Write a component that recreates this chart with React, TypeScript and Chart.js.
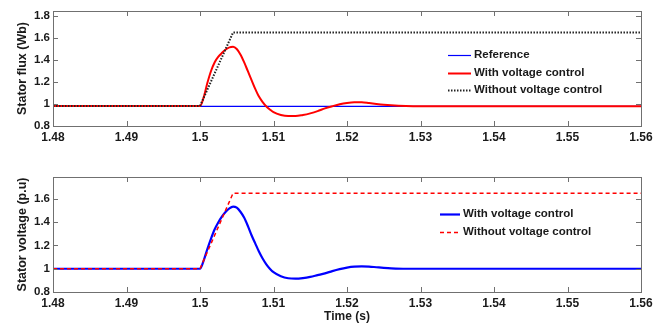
import React, { useEffect, useRef } from "react";
import { Chart, registerables } from "chart.js";
Chart.register(...registerables);

const FONT = "'Liberation Sans', Arial, Helvetica, sans-serif";

// ---- tick labels ----
const xTicks = [1.48, 1.49, 1.5, 1.51, 1.52, 1.53, 1.54, 1.55, 1.56];
const fluxTicks = [0.8, 1, 1.2, 1.4, 1.6, 1.8];
const voltTicks = [0.8, 1, 1.2, 1.4, 1.6];

// ---- top panel: stator flux ----
const refTime = [1.48, 1.56];
const refFlux = [0.978, 0.978];

const fluxNoCtrlTime = [1.48, 1.5, 1.5045, 1.56];
const fluxNoCtrl = [0.982, 0.982, 1.65, 1.65];

const fluxCtrlTime = [
  1.48, 1.5, 1.5005, 1.501, 1.5015, 1.502, 1.5025, 1.503, 1.5035, 1.504, 1.5045,
  1.505, 1.5055, 1.506, 1.5065, 1.507, 1.5075, 1.508, 1.5085, 1.509, 1.5095, 1.51,
  1.511, 1.512, 1.513, 1.514, 1.515, 1.516, 1.517, 1.518, 1.519, 1.52, 1.521, 1.522,
  1.523, 1.524, 1.525, 1.526, 1.528, 1.53, 1.56,
];
const fluxCtrl = [
  0.982, 0.982, 1.06, 1.19, 1.3, 1.38, 1.43, 1.465, 1.495, 1.515, 1.52,
  1.5, 1.45, 1.38, 1.3, 1.22, 1.14, 1.07, 1.02, 0.98, 0.95, 0.925,
  0.9, 0.89, 0.89, 0.9, 0.915, 0.935, 0.96, 0.98, 0.998, 1.01, 1.016, 1.015,
  1.008, 1.0, 0.993, 0.988, 0.982, 0.98, 0.98,
];

// ---- bottom panel: stator voltage ----
const voltNoCtrlTime = [1.48, 1.5, 1.5045, 1.56];
const voltNoCtrl = [1, 1, 1.65, 1.65];

const voltCtrlTime = [
  1.48, 1.5, 1.5005, 1.501, 1.5015, 1.502, 1.5025, 1.503, 1.5035, 1.504, 1.5045,
  1.505, 1.5055, 1.506, 1.5065, 1.507, 1.5075, 1.508, 1.5085, 1.509, 1.5095, 1.51,
  1.511, 1.512, 1.513, 1.514, 1.515, 1.516, 1.517, 1.518, 1.519, 1.52, 1.521, 1.522,
  1.523, 1.524, 1.525, 1.526, 1.528, 1.53, 1.56,
];
const voltCtrl = [
  1, 1, 1.07, 1.17, 1.26, 1.34, 1.4, 1.45, 1.49, 1.52, 1.535,
  1.525, 1.49, 1.44, 1.37, 1.29, 1.22, 1.15, 1.09, 1.04, 1.0, 0.97,
  0.935, 0.918, 0.915, 0.92, 0.93, 0.945, 0.96, 0.98, 0.997, 1.01, 1.018, 1.02,
  1.018, 1.013, 1.008, 1.004, 1.0, 1.0, 1.0,
];

const pts = (xs: number[], ys: number[]) => xs.map((x, i) => ({ x, y: ys[i] }));

const framePlugin = {
  id: "matlabFrame",
  afterDraw(chart: any) {
    const { ctx, chartArea: a, scales } = chart;
    const cfg = chart.options.plugins.matlabFrame;
    ctx.save();
    ctx.strokeStyle = "#707070";
    ctx.lineWidth = 1;
    ctx.strokeRect(Math.round(a.left) + 0.5, Math.round(a.top) + 0.5, Math.round(a.right - a.left), Math.round(a.bottom - a.top));
    const tl = 5;
    ctx.beginPath();
    scales.x.ticks.forEach((t: any) => {
      const px = Math.round(scales.x.getPixelForValue(t.value)) + 0.5;
      ctx.moveTo(px, a.bottom);
      ctx.lineTo(px, a.bottom - tl);
      ctx.moveTo(px, a.top);
      ctx.lineTo(px, a.top + tl);
    });
    scales.y.ticks.forEach((t: any) => {
      const py = Math.round(scales.y.getPixelForValue(t.value)) + 0.5;
      ctx.moveTo(a.left, py);
      ctx.lineTo(a.left + tl, py);
      ctx.moveTo(a.right, py);
      ctx.lineTo(a.right - tl, py);
    });
    ctx.stroke();

    // legend
    ctx.font = `bold 11.5px ${FONT}`;
    ctx.textBaseline = "middle";
    ctx.textAlign = "left";
    chart.data.datasets.forEach((ds: any, i: number) => {
      const y = cfg.rows[i];
      ctx.strokeStyle = ds.borderColor;
      ctx.lineWidth = ds.borderWidth;
      ctx.setLineDash(ds.borderDash || []);
      ctx.beginPath();
      ctx.moveTo(cfg.x0, y + 0.5);
      ctx.lineTo(cfg.x1, y + 0.5);
      ctx.stroke();
      ctx.setLineDash([]);
      ctx.fillStyle = "#1a1a1a";
      ctx.fillText(ds.label, cfg.tx, y);
    });
    ctx.restore();
  },
};

function Panel(props: {
  top: number;
  height: number;
  padTop: number;
  xHeight: number;
  yMax: number;
  yTicks: number[];
  yTitle: string;
  xTitle?: string;
  datasets: any[];
  legend: { x0: number; x1: number; tx: number; rows: number[] };
}) {
  const ref = useRef<HTMLCanvasElement>(null);
  useEffect(() => {
    const chart = new Chart(ref.current as HTMLCanvasElement, {
      type: "line",
      data: { datasets: props.datasets },
      plugins: [framePlugin],
      options: {
        animation: false,
        responsive: false,
        devicePixelRatio: 1,
        layout: { padding: { top: props.padTop, right: 31, left: 0, bottom: 0 } },
        elements: { point: { radius: 0 } },
        plugins: {
          legend: { display: false },
          tooltip: { enabled: false },
          matlabFrame: props.legend,
        } as any,
        scales: {
          x: {
            type: "linear",
            min: 1.48,
            max: 1.56,
            afterBuildTicks: (s: any) => {
              s.ticks = xTicks.map((v) => ({ value: v }));
            },
            afterFit: (s: any) => {
              s.height = props.xHeight;
            },
            grid: { display: false, drawTicks: false },
            border: { display: false },
            ticks: {
              autoSkip: false,
              maxRotation: 0,
              padding: 4,
              color: "#1a1a1a",
              font: { family: FONT, size: 12, weight: "bold" },
              callback: (v: any) => String(v),
            },
            title: {
              display: !!props.xTitle,
              text: props.xTitle || "",
              color: "#1a1a1a",
              font: { family: FONT, size: 12, weight: "bold" },
              padding: { top: 0, bottom: 3 },
            },
          },
          y: {
            type: "linear",
            min: 0.8,
            max: props.yMax,
            afterBuildTicks: (s: any) => {
              s.ticks = props.yTicks.map((v) => ({ value: v }));
            },
            afterFit: (s: any) => {
              s.width = 53;
            },
            grid: { display: false, drawTicks: false },
            border: { display: false },
            ticks: {
              autoSkip: false,
              padding: 3,
              color: "#1a1a1a",
              font: { family: FONT, size: 11.5, weight: "bold" },
              callback: (v: any) => String(v),
            },
            title: {
              display: true,
              text: props.yTitle,
              color: "#1a1a1a",
              font: { family: FONT, size: 12.5, weight: "bold" },
              padding: { top: 15, bottom: 0 },
            },
          },
        },
      } as any,
    });
    return () => chart.destroy();
  }, []);
  return (
    <canvas
      ref={ref}
      width={672}
      height={props.height}
      style={{ position: "absolute", left: 0, top: props.top, width: 672, height: props.height }}
    />
  );
}

export default function App() {
  const topSets = [
    {
      label: "Reference",
      data: pts(refTime, refFlux),
      borderColor: "#0000ff",
      borderWidth: 1.2,
      tension: 0,
      order: 3,
    },
    {
      label: "With voltage control",
      data: pts(fluxCtrlTime, fluxCtrl),
      borderColor: "#ff0000",
      borderWidth: 2,
      cubicInterpolationMode: "monotone",
      order: 2,
    },
    {
      label: "Without voltage control",
      data: pts(fluxNoCtrlTime, fluxNoCtrl),
      borderColor: "#222222",
      borderWidth: 2,
      borderDash: [1.5, 1.5],
      tension: 0,
      order: 1,
    },
  ];
  const botSets = [
    {
      label: "With voltage control",
      data: pts(voltCtrlTime, voltCtrl),
      borderColor: "#0000ff",
      borderWidth: 2.2,
      cubicInterpolationMode: "monotone",
      order: 2,
    },
    {
      label: "Without voltage control",
      data: pts(voltNoCtrlTime, voltNoCtrl),
      borderColor: "#ff0000",
      borderWidth: 1.5,
      borderDash: [4, 3],
      tension: 0,
      order: 1,
    },
  ];
  return (
    <div style={{ position: "fixed", left: 0, top: 0, width: 672, height: 327, background: "#fff" }}>
      <Panel
        top={0}
        height={155}
        padTop={11}
        xHeight={29}
        yMax={1.845}
        yTicks={fluxTicks}
        yTitle="Stator flux (Wb)"
        datasets={topSets}
        legend={{ x0: 448, x1: 471, tx: 474, rows: [55, 73, 90] }}
      />
      <Panel
        top={160}
        height={167}
        padTop={17}
        xHeight={35}
        yMax={1.789}
        yTicks={voltTicks}
        yTitle="Stator voltage (p.u)"
        xTitle="Time (s)"
        datasets={botSets}
        legend={{ x0: 440, x1: 460, tx: 463, rows: [54, 72] }}
      />
    </div>
  );
}
